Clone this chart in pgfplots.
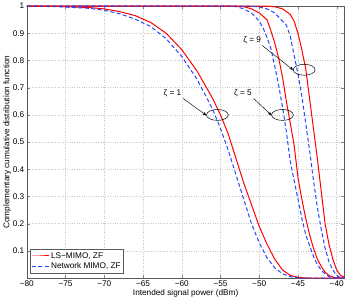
\documentclass[border=0pt]{standalone}
\usepackage{fontspec}
\setmainfont{Liberation Sans}
\usepackage{pgfplots}
\pgfplotsset{compat=1.18}
\usetikzlibrary{arrows.meta}
\definecolor{mblue}{RGB}{35,70,255}
\begin{document}
\begin{tikzpicture}
\begin{axis}[
  scale only axis, width=320pt, height=274pt,
  xmin=-80, xmax=-39, ymin=0, ymax=1,
  xtick={-80,-75,-70,-65,-60,-55,-50,-45,-40},
  xticklabels={−80,−75,−70,−65,−60,−55,−50,−45,−40},
  ytick={0.1,0.2,0.3,0.4,0.5,0.6,0.7,0.8,0.9,1},
  yticklabels={0.1,0.2,0.3,0.4,0.5,0.6,0.7,0.8,0.9,1},
  tick align=inside, major tick length=3pt,
  font=\fontsize{8.3}{10}\selectfont,
  /pgf/number format/assume math mode=true,
  grid=major,
  major grid style={gray!45, dotted, line width=0.5pt},
  axis line style={gray!70!black, line width=0.5pt},
  xlabel={Intended signal power (dBm)},
  ylabel={Complementary cumulative distribution function},
  xlabel style={yshift=4pt},
  ylabel style={yshift=-5pt},
  xticklabel style={yshift=1pt},
  yticklabel style={xshift=1pt},
  clip=false,
  legend style={at={(0.01,0.018)}, anchor=south west, draw=gray!70!black,
    font=\fontsize{8.3}{10}\selectfont, inner sep=1pt, row sep=-1pt,
    legend cell align=left},
]
% zeta = 1
\addplot[red, line width=1pt] coordinates {
(-80,1) (-76,0.999) (-72,0.995) (-70,0.99) (-68,0.98) (-66,0.965) (-64,0.94)
(-62,0.9) (-60,0.84) (-58,0.76) (-56,0.66) (-55,0.60) (-54,0.53) (-53,0.44)
(-52,0.35) (-51,0.27) (-50,0.19) (-49,0.125) (-48,0.07) (-47,0.03) (-46,0.01)
(-45,0.003) (-44,0.0005) (-39,0)};
\addlegendentry{LS−MIMO, ZF}
\addplot[mblue, line width=1pt, dash pattern=on 4pt off 2.5pt] coordinates {
(-80,1) (-76,0.998) (-72,0.992) (-70,0.985) (-68,0.972) (-66,0.952) (-64,0.925)
(-62,0.88) (-60,0.815) (-58,0.73) (-56,0.62) (-55,0.55) (-54,0.47) (-53,0.38)
(-52,0.29) (-51,0.2) (-50,0.13) (-49,0.075) (-48,0.038) (-47,0.016) (-46,0.005)
(-45,0.001) (-44,0) (-39,0)};
\addlegendentry{Network MIMO, ZF}
% zeta = 5
\addplot[red, line width=1pt, forget plot] coordinates {
(-80,1) (-53,1) (-52,0.998) (-51,0.99) (-50,0.975) (-49,0.95) (-48.5,0.91)
(-48,0.865) (-47.5,0.81) (-47,0.74) (-46.5,0.65) (-46,0.57) (-45.5,0.49)
(-45,0.37) (-44.5,0.29) (-44,0.22) (-43.5,0.16) (-43,0.11) (-42.5,0.07)
(-42,0.043) (-41.5,0.022) (-41,0.01) (-40.5,0.004) (-40,0.001) (-39,0)};
\addplot[mblue, line width=1pt, dash pattern=on 4pt off 2.5pt, forget plot] coordinates {
(-80,1) (-54,1) (-53,0.998) (-52,0.99) (-51,0.975) (-50,0.945) (-49.5,0.92)
(-49,0.885) (-48.5,0.845) (-48,0.78) (-47.5,0.71) (-47,0.63) (-46.5,0.54)
(-46,0.43) (-45.5,0.36) (-45,0.29) (-44.5,0.22) (-44,0.16) (-43.5,0.12)
(-43,0.08) (-42.5,0.05) (-42,0.03) (-41.5,0.015) (-41,0.006) (-40.5,0.002)
(-40,0) (-39,0)};
% zeta = 9
\addplot[red, line width=1pt, forget plot] coordinates {
(-80,1) (-49,1) (-48,0.998) (-47,0.99) (-46.5,0.98) (-46,0.97) (-45.5,0.945)
(-45,0.9) (-44.5,0.84) (-44,0.77) (-43.5,0.66) (-43,0.55) (-42.5,0.44)
(-42,0.32) (-41.5,0.2) (-41,0.125) (-40.5,0.07) (-40,0.03) (-39.5,0.01)
(-39,0.003)};
\addplot[mblue, line width=1pt, dash pattern=on 4pt off 2.5pt, forget plot] coordinates {
(-80,1) (-51,1) (-50,0.997) (-49,0.99) (-48,0.975) (-47.5,0.96) (-47,0.945)
(-46.5,0.93) (-46,0.89) (-45.5,0.82) (-45,0.75) (-44.5,0.67) (-44,0.57)
(-43.5,0.47) (-43,0.36) (-42.5,0.26) (-42,0.18) (-41.5,0.11) (-41,0.06)
(-40.5,0.03) (-40,0.01) (-39.5,0.002) (-39,0)};
% annotations
\draw[line width=0.5pt] (axis cs:-55.4,0.60) ellipse [x radius=11pt, y radius=5.5pt];
\draw[line width=0.5pt] (axis cs:-47.0,0.60) ellipse [x radius=11pt, y radius=5.5pt];
\draw[line width=0.5pt] (axis cs:-44.2,0.766) ellipse [x radius=11pt, y radius=5.5pt];
\node[font=\fontsize{8.3}{10}\selectfont] at (axis cs:-61.2,0.68) {ζ = 1};
\node[font=\fontsize{8.3}{10}\selectfont] at (axis cs:-52.1,0.68) {ζ = 5};
\node[font=\fontsize{8.3}{10}\selectfont] at (axis cs:-50.9,0.876) {ζ = 9};
\draw[-{Stealth[length=4pt,width=3pt]}, line width=0.45pt] (axis cs:-59.8,0.66) -- (axis cs:-56.8,0.598);
\draw[-{Stealth[length=4pt,width=3pt]}, line width=0.45pt] (axis cs:-50.7,0.66) -- (axis cs:-48.4,0.598);
\draw[-{Stealth[length=4pt,width=3pt]}, line width=0.45pt] (axis cs:-49.6,0.855) -- (axis cs:-45.6,0.765);
\end{axis}
\end{tikzpicture}
\end{document}
